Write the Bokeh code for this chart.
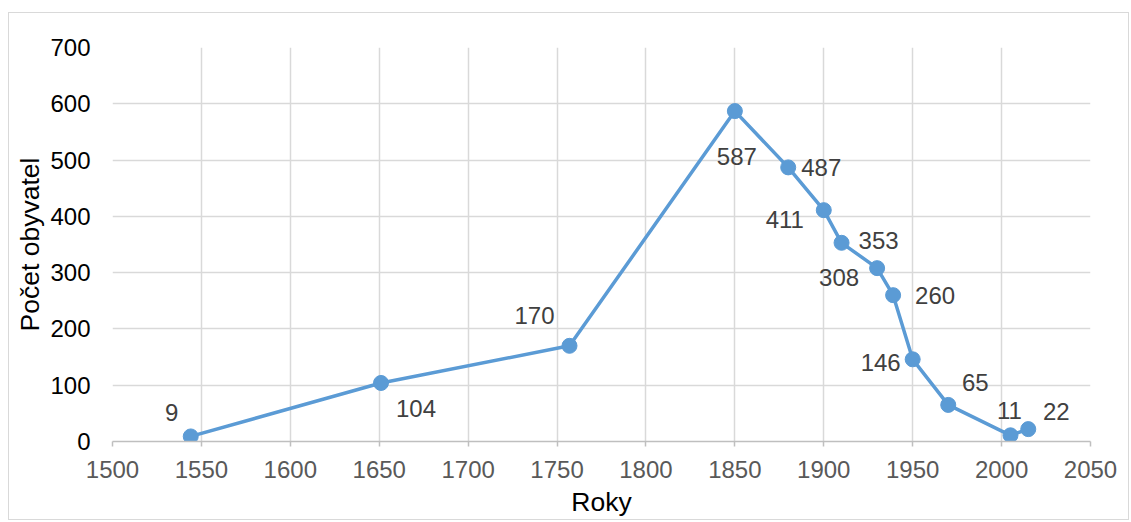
from bokeh.plotting import figure
from bokeh.models import ColumnDataSource, FixedTicker
from bokeh.core.properties import value
from bokeh.embed import file_html
from bokeh.resources import INLINE

years = [1544, 1651, 1757, 1850, 1880, 1900, 1910, 1930, 1939, 1950, 1970, 2005, 2015]
population = [9, 104, 170, 587, 487, 411, 353, 308, 260, 146, 65, 11, 22]
x_ticks = [1500, 1550, 1600, 1650, 1700, 1750, 1800, 1850, 1900, 1950, 2000, 2050]
y_ticks = [0, 100, 200, 300, 400, 500, 600, 700]

# label placement (screen pixels, y down)
lab_dx = [-19, 35, -35, 2, 33, -39, 37, -38, 42, -32, 27, -1, 28]
lab_dy = [-24, 26, -30, 45, 0, 9, -2, 9, 0, 3, -22, -25, -18]

FONT = "Liberation Sans"
LINE = "#5B9BD5"

src = ColumnDataSource(dict(x=years, y=population, t=[str(v) for v in population],
                            dx=lab_dx, dy=lab_dy))

p = figure(width=1121, height=508, output_backend="svg", toolbar_location=None,
           x_range=(1500, 2050), y_range=(0, 700),
           min_border_left=103, min_border_right=40, min_border_top=34, min_border_bottom=80)
p.margin = (12, 0, 0, 8)
p.styles = {"border": "1px solid #d9d9d9"}
p.outline_line_color = None
p.background_fill_color = "white"
p.border_fill_color = "white"

p.line("x", "y", source=src, line_color=LINE, line_width=3.5)
p.scatter("x", "y", source=src, size=15, fill_color=LINE, line_color=LINE)
p.text("x", "y", text="t", source=src, x_offset="dx", y_offset="dy",
       text_align="center", text_baseline="middle", text_font=value(FONT),
       text_font_size="24px", text_color="#404040")

p.xaxis.ticker = FixedTicker(ticks=x_ticks)
p.yaxis.ticker = FixedTicker(ticks=y_ticks)
p.xgrid.ticker = FixedTicker(ticks=x_ticks)
p.ygrid.ticker = FixedTicker(ticks=y_ticks)
for g in (p.xgrid, p.ygrid):
    g.grid_line_color = "#d9d9d9"
    g.grid_line_width = 1.5

p.xaxis.axis_label = "Roky"
p.yaxis.axis_label = "Počet obyvatel"
for ax in (p.xaxis, p.yaxis):
    ax.axis_label_text_font = FONT
    ax.axis_label_text_font_style = "normal"
    ax.axis_label_text_font_size = "26.5px"
    ax.axis_label_text_color = "black"
    ax.major_label_text_font = FONT
    ax.major_label_text_font_size = "24px"
    ax.minor_tick_line_color = None

p.xaxis.axis_line_color = "#bfbfbf"
p.xaxis.axis_line_width = 1.5
p.xaxis.major_tick_line_color = "#bfbfbf"
p.xaxis.major_tick_line_width = 1.5
p.xaxis.major_tick_in = 0
p.xaxis.major_tick_out = 5
p.xaxis.major_label_standoff = 14
p.xaxis.major_label_text_color = "#595959"
p.xaxis.axis_label_standoff = 6

p.yaxis.axis_line_color = None
p.yaxis.major_tick_line_color = None
p.yaxis.major_tick_in = 0
p.yaxis.major_tick_out = 0
p.yaxis.major_label_standoff = 22
p.yaxis.major_label_text_color = "black"
p.yaxis.axis_label_standoff = 2

open("out.html", "w").write(file_html(p, INLINE))
